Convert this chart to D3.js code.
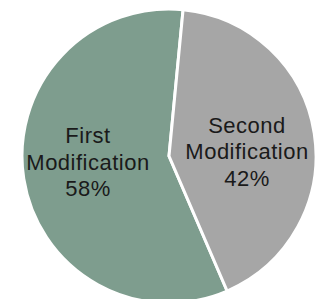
<!DOCTYPE html>
<html>
<head>
<meta charset="utf-8">
<script src="https://cdn.jsdelivr.net/npm/d3@7"></script>
<style>
  html, body { margin: 0; padding: 0; background: #fff; }
  svg { display: block; }
</style>
</head>
<body>
<div class="pie-container"></div>
<script>
// data
const categories = ['First Modification', 'Second Modification'];
const shares = [58, 42];
const label_lines = [['First', 'Modification', '58%'], ['Second', 'Modification', '42%']];
const slice_colors = ['#7e9d8e', '#a6a6a6'];

const svg_width = 316;
const svg_height = 299;
const cx = 169, cy = 156, radius = 147;

const data = categories.map((c, i) => ({name: c, value: shares[i], lines: label_lines[i]}));

const start = 156.7 * Math.PI / 180;
const pie = d3.pie().sort(null).value(d => d.value)
              .startAngle(start).endAngle(start + 2 * Math.PI);
const arcs = pie(data);

const arc = d3.arc().innerRadius(0).outerRadius(radius);
const label_arc = d3.arc().innerRadius(82).outerRadius(82);

const color = d3.scaleOrdinal().domain(categories).range(slice_colors);

const svg = d3.select('.pie-container')
              .append('svg')
              .attr('width', svg_width)
              .attr('height', svg_height);

const g = svg.append('g').attr('transform', `translate(${cx}, ${cy})`);

g.selectAll('.slice')
 .data(arcs)
 .enter()
 .append('path')
 .attr('class', 'slice')
 .attr('d', arc)
 .style('fill', d => color(d.data.name))
 .style('stroke', '#fff')
 .style('stroke-width', 3)
 .style('stroke-linejoin', 'miter');

// labels: nudged a bit like the original's best-fit placement
const nudge = [[0, -7], [-3, 8]];
const line_h = 26.8;
const labels = g.selectAll('.label')
 .data(arcs)
 .enter()
 .append('text')
 .attr('class', 'label')
 .attr('transform', (d, i) => {
     const [x, y] = label_arc.centroid(d);
     return `translate(${x + nudge[i][0]}, ${y + nudge[i][1]})`;
 })
 .style('text-anchor', 'middle')
 .style('font-family', '"Liberation Sans", Arial, sans-serif')
 .style('font-size', '22px')
 .style('letter-spacing', '0.5px')
 .style('fill', '#1a1a1a');

labels.selectAll('tspan')
 .data(d => d.data.lines)
 .enter()
 .append('tspan')
 .attr('x', 0)
 .attr('y', (d, i) => (i - 1) * line_h + 8)
 .text(d => d);
</script>
</body>
</html>
